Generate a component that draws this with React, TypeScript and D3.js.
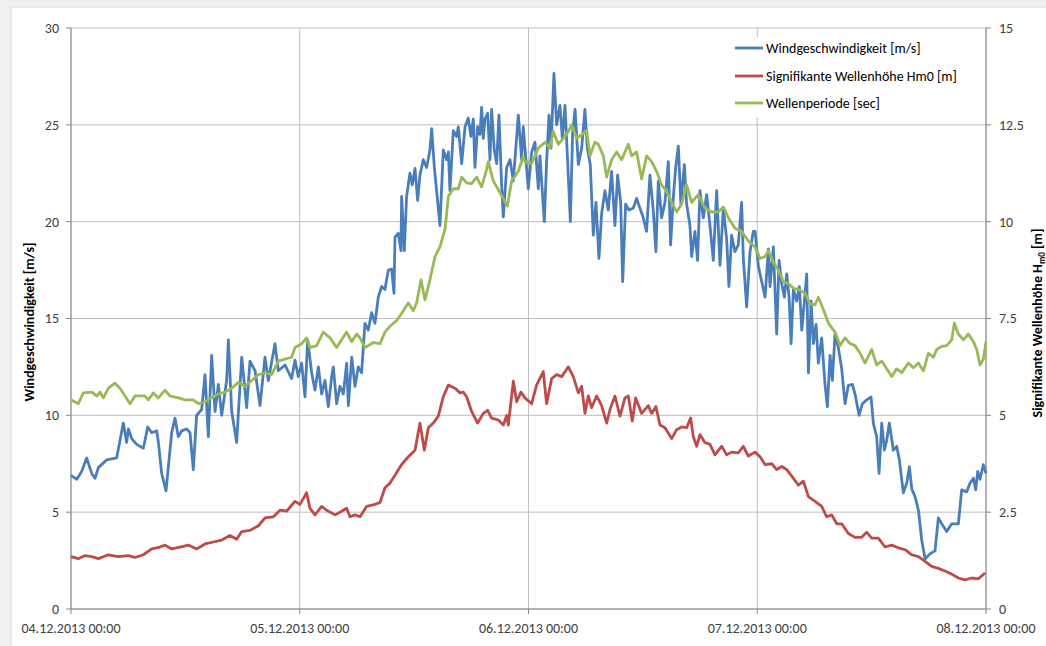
import React from "react";
import * as d3 from "d3";

// time in hours since 04.12.2013 00:00
const dayHours = [0, 24, 48, 72, 96];
const dayLabels = ["04.12.2013 00:00", "05.12.2013 00:00", "06.12.2013 00:00", "07.12.2013 00:00", "08.12.2013 00:00"];
const leftTicks = [0, 5, 10, 15, 20, 25, 30];
const rightTicks = [0, 2.5, 5, 7.5, 10, 12.5, 15];
const rightTickLabels = ["0", "2.5", "5", "7.5", "10", "12.5", "15"];

const seriesNames = ["Windgeschwindigkeit [m/s]", "Signifikante Wellenhöhe Hm0 [m]", "Wellenperiode [sec]"];
const seriesColors = ["#4A7EBB", "#BE4B48", "#98B954"];

// Windgeschwindigkeit [m/s] (left axis): [hour, value]
const windSpeed: [number, number][] = [
  [0, 6.9], [0.6, 6.7], [1.12, 7.1], [1.64, 7.8], [2.17, 7.0], [2.52, 6.75], [2.87, 7.3], [3.74, 7.7], [4.79, 7.8],
  [5.49, 9.6], [5.84, 8.6], [6.02, 9.3], [6.37, 8.8], [6.89, 8.5], [7.59, 8.3], [8.05, 9.4], [8.47, 9.1], [8.99, 9.2],
  [9.17, 8.6], [9.51, 7.0], [9.97, 6.1], [10.56, 9.1], [10.91, 9.85], [11.26, 8.9], [11.61, 9.2], [12.14, 9.3],
  [12.49, 9.1], [12.83, 7.2], [13.18, 10.0], [13.71, 10.3], [14.06, 12.1], [14.41, 8.9], [14.76, 13.1], [15.11, 10.2],
  [15.46, 11.6], [15.81, 10.0], [16.33, 11.8], [16.51, 13.9], [16.86, 10.2], [17.38, 8.6], [17.91, 13.0], [18.43, 10.4],
  [18.78, 12.8], [19.31, 12.3], [19.83, 10.5], [20.35, 13.0], [20.7, 11.8], [21.4, 13.7], [21.75, 12.3], [22.45, 12.6],
  [23.15, 11.9], [23.5, 12.85], [23.85, 12.0], [24.2, 12.7], [24.55, 10.95], [24.83, 13.9], [25.25, 12.2], [25.6, 11.3],
  [25.95, 12.5], [26.3, 11.1], [26.65, 11.8], [27.0, 10.45], [27.35, 12.0], [27.52, 12.5], [27.87, 10.6], [28.22, 11.5],
  [28.57, 11.1], [28.92, 12.7], [29.1, 10.5], [29.45, 13.0], [29.8, 11.5], [30.14, 12.5], [30.49, 12.2], [30.84, 14.75],
  [31.19, 14.4], [31.54, 15.3], [31.89, 14.75], [32.24, 16.1], [32.59, 16.65], [32.94, 16.5], [33.29, 17.5], [33.64, 17.55],
  [33.89, 16.3], [33.99, 19.2], [34.34, 19.4], [34.62, 18.5], [34.69, 21.3], [34.97, 18.5], [35.21, 21.3], [35.56, 22.5],
  [35.81, 21.9], [36.09, 22.75], [36.37, 21.1], [36.61, 22.4], [36.96, 23.2], [37.31, 22.8], [37.66, 23.7], [37.84, 24.8],
  [38.12, 22.8], [38.36, 21.6], [38.71, 19.8], [39.06, 23.7], [39.41, 23.2], [39.59, 23.6], [39.76, 21.6], [40.11, 24.7],
  [40.46, 24.4], [40.64, 24.9], [40.99, 23.0], [41.34, 24.9], [41.68, 25.35], [41.96, 24.4], [42.21, 25.3], [42.38, 22.8],
  [42.66, 24.9], [42.91, 24.5], [43.08, 25.9], [43.26, 24.3], [43.43, 25.3], [43.71, 25.6], [43.96, 23.2], [44.13, 25.8],
  [44.41, 23.7], [44.66, 23.0], [44.9, 25.5], [45.18, 21.9], [45.36, 20.25], [45.71, 22.8], [46.06, 23.2], [46.41, 22.1],
  [46.93, 25.5], [47.28, 23.2], [47.45, 24.9], [47.63, 23.8], [47.98, 21.7], [48.33, 23.6], [48.68, 24.1], [49.03, 21.7],
  [49.2, 23.4], [49.66, 20.0], [49.9, 23.1], [50.15, 25.5], [50.36, 23.8], [50.67, 27.65], [50.95, 25.0], [51.3, 26.0],
  [51.55, 24.3], [51.83, 26.0], [52.11, 23.1], [52.39, 20.0], [52.63, 24.6], [52.88, 25.8], [53.23, 22.95], [53.58, 23.8],
  [53.92, 25.8], [54.17, 23.8], [54.48, 22.95], [54.8, 19.3], [55.08, 21.0], [55.39, 18.1], [55.67, 20.4], [56.02, 21.6],
  [56.37, 20.6], [56.72, 22.6], [57.07, 19.8], [57.35, 22.4], [57.67, 21.0], [57.88, 16.9], [58.19, 20.9], [58.54, 20.6],
  [58.99, 20.7], [59.34, 21.2], [59.69, 20.7], [60.04, 20.2], [60.39, 19.5], [60.74, 22.4], [61.09, 20.6], [61.37, 18.45],
  [61.62, 22.1], [61.97, 20.2], [62.32, 21.0], [62.67, 23.1], [62.91, 18.8], [63.19, 21.2], [63.44, 22.8], [63.72, 23.9],
  [63.99, 20.9], [64.35, 22.95], [64.59, 20.9], [64.94, 19.8], [65.12, 18.2], [65.46, 19.5], [65.74, 18.0], [65.99, 21.6],
  [66.34, 20.2], [66.69, 21.4], [67.04, 19.8], [67.39, 18.0], [67.74, 21.6], [68.09, 17.75], [68.44, 20.7], [68.79, 19.1],
  [69.03, 16.65], [69.31, 19.3], [69.66, 18.45], [70.01, 18.8], [70.36, 21.0], [70.54, 18.1], [70.89, 15.6], [71.24, 18.45],
  [71.58, 19.5], [71.77, 19.5], [72.12, 17.7], [72.47, 16.9], [72.82, 16.1], [73.17, 18.6], [73.34, 16.65], [73.69, 18.7],
  [74.04, 14.2], [74.29, 18.0], [74.57, 16.8], [74.85, 16.1], [75.09, 17.3], [75.34, 16.1], [75.55, 13.7], [75.79, 16.5],
  [76.14, 15.9], [76.42, 16.65], [76.67, 14.4], [76.95, 15.9], [77.19, 17.3], [77.37, 12.2], [77.65, 15.9], [77.89, 13.7],
  [78.17, 14.7], [78.41, 12.7], [78.76, 14.0], [79.11, 11.6], [79.36, 10.45], [79.64, 13.1], [79.88, 11.8], [80.16, 14.2],
  [80.51, 13.5], [80.86, 12.4], [81.21, 10.6], [81.56, 11.55], [81.98, 11.6], [82.26, 11.1], [82.68, 10.0], [83.03, 10.6],
  [83.48, 10.8], [83.94, 10.95], [84.18, 9.6], [84.53, 8.9], [84.78, 7.0], [85.06, 9.6], [85.34, 8.2], [85.58, 8.7],
  [85.86, 9.6], [86.28, 8.2], [86.63, 8.4], [86.91, 7.7], [87.33, 6.0], [87.68, 6.5], [87.96, 7.35], [88.21, 6.2],
  [88.56, 5.8], [88.91, 5.1], [89.26, 3.55], [89.61, 2.6], [90.13, 2.85], [90.65, 3.0], [91.0, 4.7], [91.35, 4.4],
  [91.88, 4.0], [92.4, 4.4], [93.1, 4.4], [93.45, 6.15], [93.98, 6.05], [94.33, 6.5], [94.68, 6.75], [94.92, 6.15],
  [95.13, 7.1], [95.37, 6.7], [95.72, 7.45], [96.0, 7.0],
];

// Signifikante Wellenhöhe Hm0 [m] (right axis)
const waveHeight: [number, number][] = [
  [0, 1.35], [0.77, 1.3], [1.47, 1.38], [2.17, 1.35], [2.87, 1.3], [3.92, 1.4], [4.97, 1.35], [6.02, 1.38], [6.72, 1.33],
  [7.59, 1.4], [8.47, 1.55], [9.34, 1.6], [9.86, 1.65], [10.56, 1.55], [11.43, 1.6], [12.31, 1.65], [13.18, 1.55],
  [14.06, 1.68], [14.93, 1.73], [15.81, 1.78], [16.68, 1.9], [17.38, 1.8], [17.91, 2.0], [18.78, 2.03], [19.66, 2.15],
  [20.35, 2.35], [21.23, 2.38], [21.93, 2.55], [22.63, 2.53], [23.33, 2.73], [23.5, 2.78], [24.02, 2.7], [24.37, 2.85],
  [24.72, 3.0], [25.07, 2.6], [25.6, 2.43], [26.3, 2.65], [26.82, 2.55], [27.7, 2.43], [28.22, 2.5], [28.92, 2.6],
  [29.27, 2.38], [29.79, 2.43], [30.32, 2.38], [31.02, 2.65], [31.89, 2.7], [32.42, 2.75], [32.94, 3.13], [33.47, 3.25],
  [33.99, 3.45], [34.69, 3.73], [35.39, 3.93], [36.09, 4.1], [36.61, 4.8], [37.07, 4.1], [37.49, 4.68], [38.01, 4.8],
  [38.54, 4.98], [39.06, 5.48], [39.59, 5.78], [40.29, 5.7], [40.81, 5.58], [41.16, 5.6], [41.51, 5.48], [42.03, 5.1],
  [42.66, 4.8], [43.26, 5.05], [43.71, 5.13], [44.13, 4.93], [44.83, 4.88], [45.36, 4.75], [45.71, 5.0], [45.88, 4.75],
  [46.41, 5.88], [46.76, 5.35], [47.21, 5.6], [47.63, 5.45], [48.33, 5.3], [48.85, 5.78], [49.55, 6.13], [49.9, 5.3],
  [50.43, 5.95], [50.95, 6.05], [51.48, 6.0], [52.18, 6.25], [52.7, 6.0], [53.23, 5.58], [53.58, 5.75], [53.92, 5.05],
  [54.27, 5.5], [54.62, 5.2], [55.15, 5.5], [55.67, 5.25], [56.2, 4.8], [56.55, 5.15], [57.07, 5.5], [57.6, 4.98],
  [58.12, 5.45], [58.47, 5.5], [58.89, 4.85], [59.24, 5.45], [59.87, 5.05], [60.57, 5.25], [60.92, 5.05], [61.37, 5.23],
  [61.79, 4.75], [62.32, 4.68], [63.02, 4.4], [63.54, 4.63], [64.07, 4.7], [64.59, 4.68], [65.01, 4.93], [65.29, 4.45],
  [65.64, 4.2], [65.99, 4.5], [66.51, 4.3], [67.04, 4.25], [67.56, 3.98], [68.26, 4.2], [68.79, 3.98], [69.31, 4.05],
  [70.01, 4.03], [70.54, 4.2], [71.06, 3.95], [71.77, 4.05], [72.29, 3.93], [72.82, 3.73], [73.52, 3.75], [74.04, 3.6],
  [74.57, 3.68], [75.09, 3.6], [75.62, 3.43], [76.32, 3.2], [76.84, 3.3], [77.37, 2.9], [78.06, 2.78], [78.76, 2.65],
  [79.29, 2.38], [79.81, 2.43], [80.34, 2.2], [80.86, 2.2], [81.56, 1.95], [82.26, 1.85], [82.96, 1.85], [83.48, 1.98],
  [84.01, 1.83], [84.71, 1.83], [85.41, 1.6], [86.11, 1.65], [86.81, 1.58], [87.51, 1.53], [88.21, 1.4], [88.91, 1.35],
  [89.61, 1.23], [90.3, 1.1], [91.0, 1.05], [91.7, 0.98], [92.4, 0.9], [93.1, 0.8], [93.8, 0.75], [94.5, 0.8],
  [95.2, 0.78], [95.9, 0.93],
];

// Wellenperiode [sec] (right axis)
const wavePeriod: [number, number][] = [
  [0, 5.4], [0.77, 5.3], [1.29, 5.58], [2.17, 5.6], [2.69, 5.5], [3.04, 5.6], [3.39, 5.45], [3.92, 5.7], [4.62, 5.83],
  [5.14, 5.7], [5.67, 5.5], [6.19, 5.3], [6.72, 5.5], [7.76, 5.5], [8.11, 5.4], [8.64, 5.58], [9.16, 5.45], [9.86, 5.65],
  [10.39, 5.5], [11.26, 5.45], [11.96, 5.4], [12.83, 5.4], [13.36, 5.3], [14.06, 5.35], [14.76, 5.45], [15.46, 5.55],
  [16.16, 5.6], [16.86, 5.7], [17.56, 5.85], [18.26, 5.75], [18.96, 5.9], [19.66, 6.05], [20.35, 6.1], [21.05, 6.05],
  [21.75, 6.4], [22.45, 6.45], [23.15, 6.5], [23.5, 6.75], [24.2, 6.85], [24.72, 7.0], [25.07, 6.75], [25.77, 6.8],
  [26.47, 7.15], [27.17, 7.0], [27.87, 6.75], [28.92, 7.15], [29.45, 6.9], [29.97, 7.1], [30.32, 7.0], [30.84, 6.75],
  [31.72, 6.88], [32.42, 6.85], [32.94, 7.15], [33.47, 7.3], [34.17, 7.45], [34.69, 7.63], [35.39, 7.9], [35.91, 7.7],
  [36.26, 7.9], [36.72, 8.5], [37.14, 7.98], [37.66, 8.5], [38.19, 9.1], [38.71, 9.35], [39.24, 9.8], [39.59, 10.65],
  [40.11, 10.85], [40.64, 10.85], [40.99, 11.15], [41.51, 11.0], [42.03, 10.98], [42.56, 11.15], [43.08, 10.9],
  [43.61, 11.35], [43.78, 11.55], [44.31, 11.05], [45.01, 10.75], [45.78, 10.4], [46.23, 11.05], [46.93, 11.3],
  [47.45, 11.68], [47.63, 11.55], [48.33, 11.5], [49.03, 11.9], [49.73, 12.05], [50.25, 11.9], [50.6, 12.33], [51.13, 12.0],
  [51.65, 12.15], [52.18, 12.33], [52.53, 12.5], [53.05, 12.15], [53.58, 12.25], [54.1, 12.35], [54.45, 11.7], [54.97, 12.05],
  [55.32, 12.0], [55.85, 11.7], [56.2, 11.15], [56.72, 11.6], [57.25, 11.8], [57.77, 11.6], [58.47, 12.0], [58.82, 11.7],
  [59.34, 11.8], [59.87, 11.1], [60.39, 11.7], [60.92, 11.55], [61.44, 11.3], [61.97, 10.95], [62.49, 10.78], [63.02, 10.5],
  [63.54, 10.25], [64.07, 10.45], [64.59, 10.95], [65.12, 10.5], [65.81, 10.7], [66.51, 10.35], [67.21, 10.25],
  [67.91, 10.25], [68.44, 10.38], [68.96, 10.1], [69.66, 9.83], [70.36, 9.75], [71.06, 9.5], [71.76, 9.35], [72.29, 9.05],
  [72.82, 9.1], [73.17, 9.25], [73.69, 8.95], [74.22, 8.75], [74.74, 8.45], [75.27, 8.4], [75.79, 8.28], [76.32, 8.25],
  [77.02, 8.15], [77.54, 7.88], [78.06, 7.85], [78.41, 8.05], [78.94, 7.73], [79.46, 7.38], [80.16, 7.15], [80.69, 6.8],
  [81.21, 7.0], [81.74, 6.85], [82.26, 6.8], [82.79, 6.6], [83.31, 6.35], [84.01, 6.7], [84.53, 6.3], [85.06, 6.4],
  [85.58, 6.2], [86.11, 6.0], [86.63, 6.2], [87.16, 6.1], [87.86, 6.35], [88.38, 6.23], [88.91, 6.35], [89.43, 6.15],
  [89.95, 6.6], [90.48, 6.5], [90.83, 6.7], [91.35, 6.78], [91.88, 6.8], [92.4, 6.95], [92.68, 7.38], [93.1, 7.1],
  [93.63, 6.95], [94.15, 7.1], [94.68, 6.9], [95.03, 6.7], [95.37, 6.3], [95.72, 6.45], [96.0, 6.9],
];

const FONT = "Carlito, 'Liberation Sans Narrow', 'Open Sans', sans-serif";

export default function App() {
  const W = 1046;
  const H = 646;
  const left = 71, right = 986, top = 28, bottom = 609;
  const x = d3.scaleLinear().domain([0, 96]).range([left, right]);
  const yL = d3.scaleLinear().domain([0, 30]).range([bottom, top]);
  const yR = d3.scaleLinear().domain([0, 15]).range([bottom, top]);

  const lineL = d3.line<[number, number]>().x((d) => x(d[0])).y((d) => yL(d[1]));
  const lineR = d3.line<[number, number]>().x((d) => x(d[0])).y((d) => yR(d[1]));

  const gridColor = "#BFBFBF";
  const axisColor = "#868686";
  const textColor = "#404040";

  const legendX = 735;
  const legendY = [48, 76, 103];
  const sw = 2.8;

  return (
    <svg width={W} height={H} style={{ position: "absolute", left: 0, top: 0 }} fontFamily={FONT}>
      <rect x={0} y={0} width={W} height={H} fill="#F0F0F0" />
      <rect x={11} y={7} width={W} height={H} fill="#FFFFFF" stroke="#D9D9D9" />
      {/* horizontal grid */}
      {leftTicks.map((t) => (
        <line key={"h" + t} x1={left} x2={right} y1={yL(t)} y2={yL(t)} stroke={gridColor} strokeWidth={1} />
      ))}
      {/* vertical grid */}
      {dayHours.map((h) => (
        <line key={"v" + h} x1={x(h)} x2={x(h)} y1={top} y2={bottom} stroke={gridColor} strokeWidth={1} />
      ))}
      {/* axes */}
      <line x1={left} x2={left} y1={top} y2={bottom} stroke={axisColor} />
      <line x1={right} x2={right} y1={top} y2={bottom} stroke={axisColor} />
      <line x1={left} x2={right} y1={bottom} y2={bottom} stroke={axisColor} />
      {leftTicks.map((t) => (
        <g key={"lt" + t}>
          <line x1={left - 5} x2={left} y1={yL(t)} y2={yL(t)} stroke={axisColor} />
          <text x={left - 12} y={yL(t)} dy="0.35em" textAnchor="end" fontSize={14} fill={textColor}>
            {t}
          </text>
        </g>
      ))}
      {rightTicks.map((t, i) => (
        <g key={"rt" + t}>
          <line x1={right} x2={right + 5} y1={yR(t)} y2={yR(t)} stroke={axisColor} />
          <text x={right + 13} y={yR(t)} dy="0.35em" textAnchor="start" fontSize={14} fill={textColor}>
            {rightTickLabels[i]}
          </text>
        </g>
      ))}
      {dayHours.map((h, i) => (
        <g key={"xt" + h}>
          <line x1={x(h)} x2={x(h)} y1={bottom} y2={bottom + 5} stroke={axisColor} />
          <text x={x(h)} y={bottom + 19} dy="0.35em" textAnchor="middle" fontSize={14} fill={textColor}>
            {dayLabels[i]}
          </text>
        </g>
      ))}
      {/* axis titles */}
      <text
        transform={`translate(29,322) rotate(-90)`}
        textAnchor="middle"
        dy="0.35em"
        fontSize={14}
        fontWeight="bold"
        fill="#000"
      >
        Windgeschwindigkeit [m/s]
      </text>
      <text
        transform={`translate(1037,323) rotate(-90)`}
        textAnchor="middle"
        dy="0.35em"
        fontSize={14}
        fontWeight="bold"
        fill="#000"
      >
        Signifikante Wellenhöhe H
        <tspan fontSize={9} dy="3">m0</tspan>
        <tspan dy="-3"> [m]</tspan>
      </text>
      {/* series */}
      <path d={lineL(windSpeed) || ""} fill="none" stroke={seriesColors[0]} strokeWidth={sw} strokeLinejoin="round" />
      <path d={lineR(waveHeight) || ""} fill="none" stroke={seriesColors[1]} strokeWidth={sw} strokeLinejoin="round" />
      <path d={lineR(wavePeriod) || ""} fill="none" stroke={seriesColors[2]} strokeWidth={sw} strokeLinejoin="round" />
      {/* legend */}
      <rect x={725} y={37} width={252} height={80} fill="#FFFFFF" />
      {seriesNames.map((n, i) => (
        <g key={n}>
          <line x1={legendX} x2={legendX + 28} y1={legendY[i]} y2={legendY[i]} stroke={seriesColors[i]} strokeWidth={sw} />
          <text x={legendX + 31} y={legendY[i]} dy="0.35em" fontSize={14} fill="#000">
            {n}
          </text>
        </g>
      ))}
    </svg>
  );
}
